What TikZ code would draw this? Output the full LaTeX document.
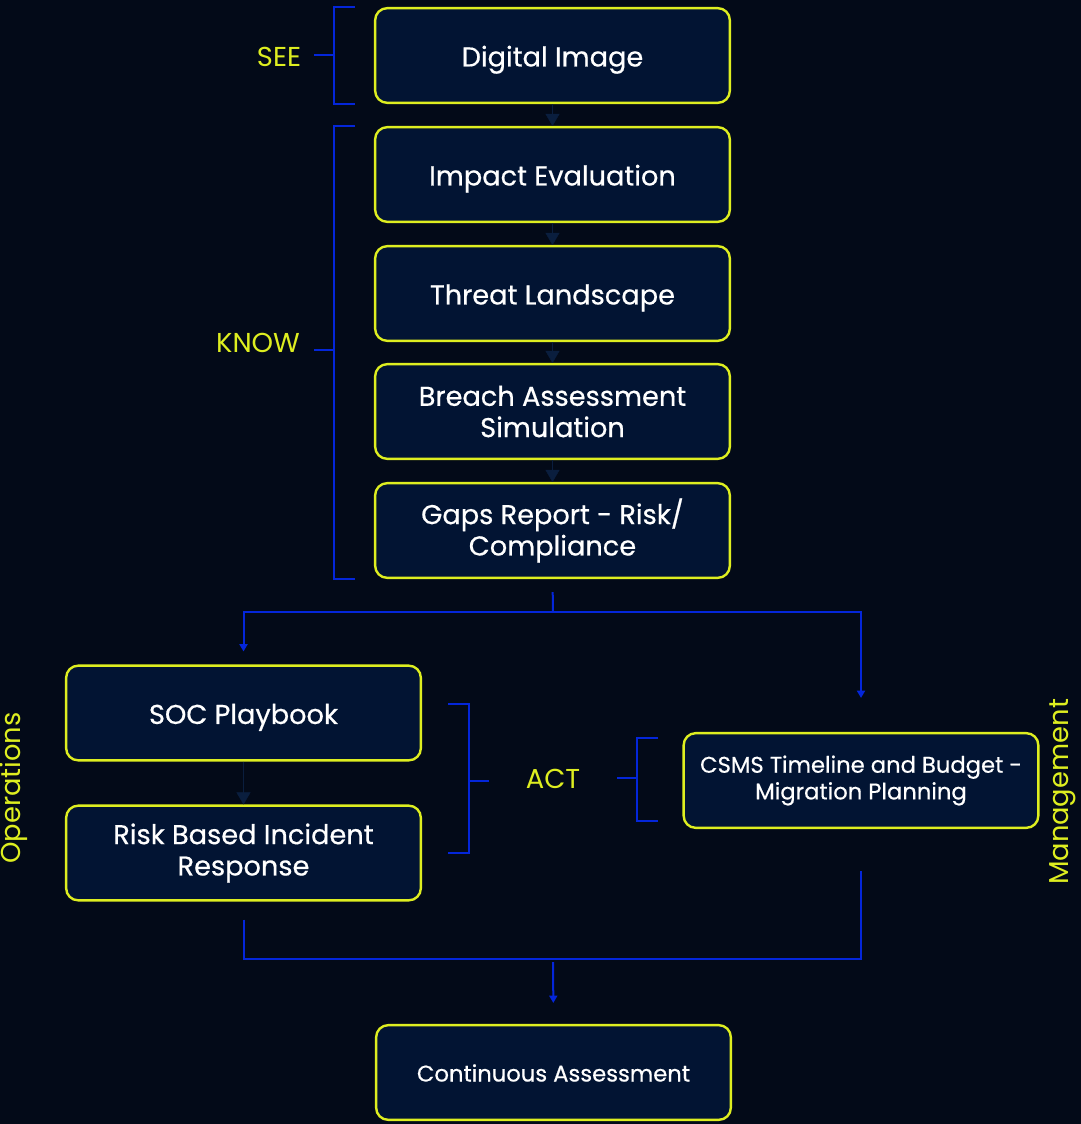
\documentclass[tikz,border=0pt]{standalone}
\usepackage{fontspec}
\setmainfont{Poppins}
\newfontfamily\boxfont{Poppins}[FakeBold=0.5]
\usetikzlibrary{positioning,arrows.meta}

\definecolor{bgnavy}{RGB}{3,10,24}
\definecolor{boxnavy}{RGB}{2,20,51}
\definecolor{lime}{RGB}{222,238,32}
\definecolor{wireblue}{RGB}{4,38,218}
\definecolor{dimarrow}{RGB}{10,30,62}

\begin{document}
\begin{tikzpicture}[x=0.75pt, y=-0.75pt,
    stage/.style={draw=lime, line width=1.8pt, fill=boxnavy, rounded corners=9pt,
        minimum width=266pt, minimum height=71pt, align=center, text=white,
        font=\boxfont\fontsize{20.4}{23.5}\selectfont},
    flat/.style={text height=#1, text depth=0pt},
    smallstage/.style={stage, font=\boxfont\fontsize{17}{20}\selectfont},
    tag/.style={text=lime, font=\fontsize{20.5}{24}\selectfont},
    link/.style={draw=wireblue, line width=1.5pt},
    tip/.style={-{Triangle[width=6pt,length=5.5pt]}},
    dimlink/.style={draw=dimarrow, line width=0.3pt, -{Triangle[width=10.5pt,length=9pt]}, dimarrow}]

    \fill[bgnavy] (0,0) rectangle (1081,1124);
    \useasboundingbox (0,0) rectangle (1081,1124);

    % SEE / KNOW column
    \node[stage, flat=16.4pt] (image) at (552.5,55.5) {Digital Image};
    \node[stage, flat=16.4pt] (impact) at (552.5,174.5) {Impact Evaluation};
    \node[stage, flat=16.4pt] (threat) at (552.5,293.5) {Threat Landscape};
    \node[stage] (breach) at (552.5,411.5) {Breach Assessment\\Simulation};
    \node[stage] (gaps) at (552.5,530.5) {Gaps Report - Risk/\\Compliance};

    \draw[dimlink] (image) -- (impact);
    \draw[dimlink] (impact) -- (threat);
    \draw[dimlink] (threat) -- (breach);
    \draw[dimlink] (breach) -- (gaps);

    % ACT row
    \node[stage, flat=16.4pt] (soc) at (243.5,713) {SOC Playbook};
    \node[stage] (risk) at (243.5,853) {Risk Based Incident\\Response};
    \node[smallstage] (csms) at (861,780.5) {CSMS Timeline and Budget -\\Migration Planning};
    \node[smallstage, flat=13.5pt] (cont) at (553.5,1072.5) {Continuous Assessment};

    \draw[dimlink] (soc) -- (risk);

    % brackets
    \draw[link] (355,7) -- (334,7) -- (334,104) -- (355,104);
    \draw[link] (314,55) -- (334,55);
    \draw[link] (355,126) -- (334,126) -- (334,579) -- (355,579);
    \draw[link] (314,350) -- (334,350);
    \draw[link] (448,704) -- (469,704) -- (469,853) -- (448,853);
    \draw[link] (469,781) -- (489,781);
    \draw[link] (658,738) -- (637,738) -- (637,821) -- (658,821);
    \draw[link] (617,778) -- (637,778);

    \node[tag] (see) at (279,57) {SEE};
    \node[tag] (know) at (258,343) {KNOW};
    \node[tag] (act) at (553,779) {ACT};
    \node[tag, rotate=90] (ops) at (14,788) {Operations};
    \node[tag, rotate=90] (mgmt) at (1063,792) {Management};

    % fork and join
    \coordinate (fork) at (553,612);
    \coordinate (join) at (553,959);
    \draw[link, shorten <=9.75pt] (gaps.south) -- (fork);
    \draw[link, tip, shorten >=9.75pt] (fork) -| (soc.north);
    \draw[link, tip, shorten >=25.5pt] (fork) -| (csms.north);
    \draw[link, shorten <=13.5pt] (risk.south) |- (join);
    \draw[link, shorten <=31.5pt] (csms.south) |- (join);
    \draw[link, tip, shorten <=2.25pt, shorten >=15.75pt] (join) -- (cont.north);
\end{tikzpicture}
\end{document}
